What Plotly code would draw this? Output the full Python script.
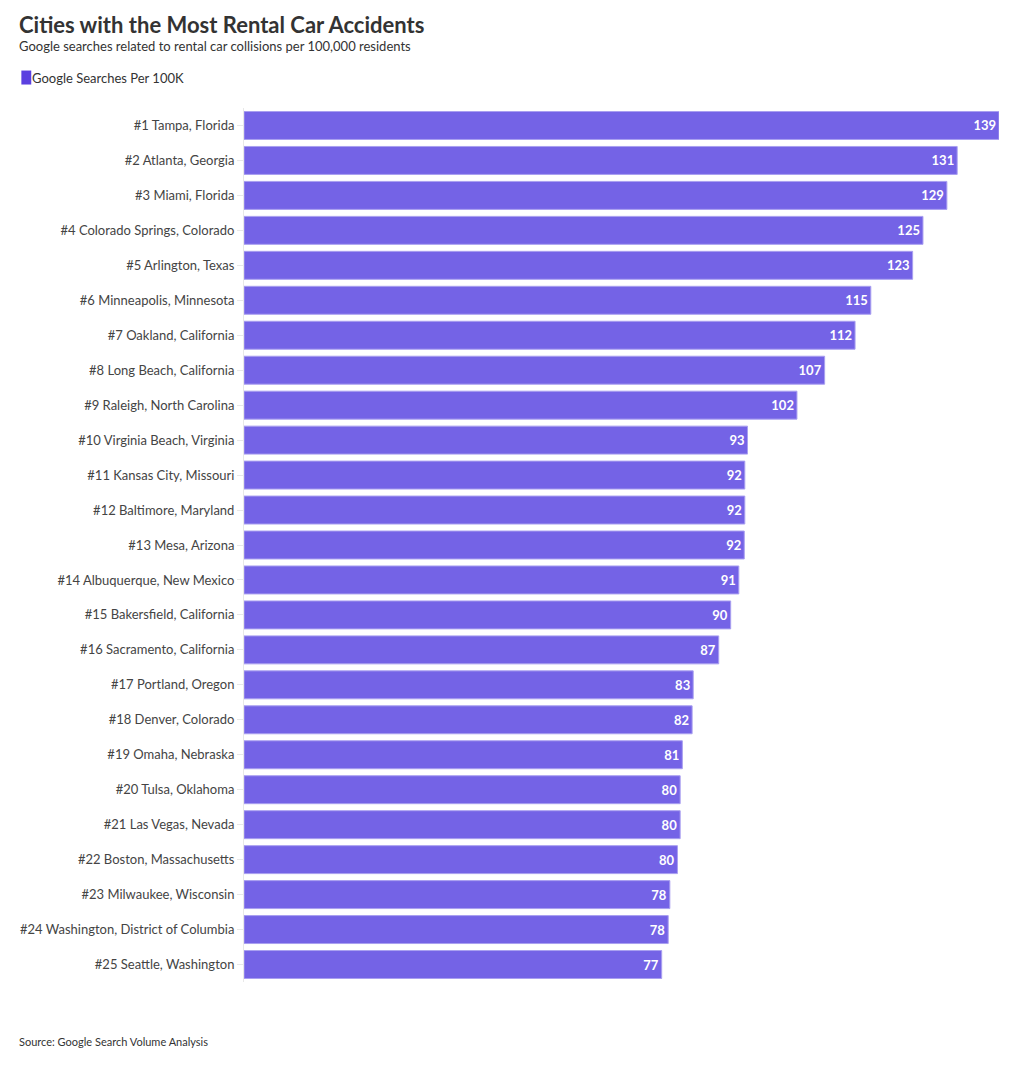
import plotly.graph_objects as go

cities = [
    "#1 Tampa, Florida",
    "#2 Atlanta, Georgia",
    "#3 Miami, Florida",
    "#4 Colorado Springs, Colorado",
    "#5 Arlington, Texas",
    "#6 Minneapolis, Minnesota",
    "#7 Oakland, California",
    "#8 Long Beach, California",
    "#9 Raleigh, North Carolina",
    "#10 Virginia Beach, Virginia",
    "#11 Kansas City, Missouri",
    "#12 Baltimore, Maryland",
    "#13 Mesa, Arizona",
    "#14 Albuquerque, New Mexico",
    "#15 Bakersfield, California",
    "#16 Sacramento, California",
    "#17 Portland, Oregon",
    "#18 Denver, Colorado",
    "#19 Omaha, Nebraska",
    "#20 Tulsa, Oklahoma",
    "#21 Las Vegas, Nevada",
    "#22 Boston, Massachusetts",
    "#23 Milwaukee, Wisconsin",
    "#24 Washington, District of Columbia",
    "#25 Seattle, Washington",
]
# bar lengths as measured in the picture
searches = [139.0, 131.3, 129.4, 125.0, 123.1, 115.4, 112.5, 106.9, 101.8, 92.7,
            92.2, 92.2, 92.1, 91.1, 89.6, 87.4, 82.7, 82.5, 80.7, 80.3,
            80.3, 79.8, 78.4, 78.1, 76.9]
# value labels as printed on the bars
labels = ["139", "131", "129", "125", "123", "115", "112", "107", "102", "93",
          "92", "92", "92", "91", "90", "87", "83", "82", "81", "80",
          "80", "80", "78", "78", "77"]

font = "Source Sans Pro, Lato, Noto Sans, sans-serif"
bar_color = "#7463e6"

# the page puts the figure 8px in from the top-left, so lay out 8px earlier
W, H = 1020, 1073
L, R, T, B = 228, 29, 99.5, 98.5
pw, ph = W - L - R, H - T - B


def px(x):
    return (x - L) / pw


def py(y):
    return (H - B - y) / ph


fig = go.Figure()
fig.add_trace(go.Bar(
    x=searches,
    y=cities,
    orientation="h",
    name="Google Searches Per 100K",
    text=labels,
    textposition="inside",
    insidetextanchor="end",
    textangle=0,
    textfont=dict(family=font, size=13, color="white", weight="bold"),
    marker=dict(color=bar_color, line=dict(color="#a99ff0", width=1)),
    hoverinfo="x+y",
    showlegend=False,
))

fig.update_layout(
    width=W,
    height=H,
    paper_bgcolor="white",
    plot_bgcolor="white",
    font=dict(family=font, color="#444"),
    margin=dict(l=L, r=R, t=T, b=B),
    bargap=0.2,
    xaxis=dict(range=[0, 139], visible=False),
    yaxis=dict(
        autorange="reversed",
        showline=True,
        linecolor="#e8e8e8",
        linewidth=1,
        ticks="outside",
        ticklen=6,
        tickcolor="#e8e8e8",
        tickfont=dict(size=13, color="#444", family=font),
        showgrid=False,
    ),
    shapes=[dict(
        type="rect", xref="paper", yref="paper",
        x0=px(3), x1=px(13), y0=py(62), y1=py(76),
        fillcolor="#5b40e0", line=dict(width=0),
    )],
    annotations=[
        dict(text="<b>Cities with the Most Rental Car Accidents</b>",
             xref="paper", yref="paper", x=px(-1), y=py(16),
             xanchor="left", yanchor="middle", showarrow=False,
             font=dict(size=22, color="#333", family=font)),
        dict(text="Google searches related to rental car collisions per 100,000 residents",
             xref="paper", yref="paper", x=px(-1), y=py(37),
             xanchor="left", yanchor="middle", showarrow=False,
             font=dict(size=13, color="#333", family=font)),
        dict(text="Google Searches Per 100K",
             xref="paper", yref="paper", x=px(12), y=py(69),
             xanchor="left", yanchor="middle", showarrow=False,
             font=dict(size=13, color="#333", family=font)),
        dict(text="Source: Google Search Volume Analysis",
             xref="paper", yref="paper", x=px(-1), y=py(1034),
             xanchor="left", yanchor="middle", showarrow=False,
             font=dict(size=11, color="#333", family=font)),
    ],
)

fig.write_html("out.html")
